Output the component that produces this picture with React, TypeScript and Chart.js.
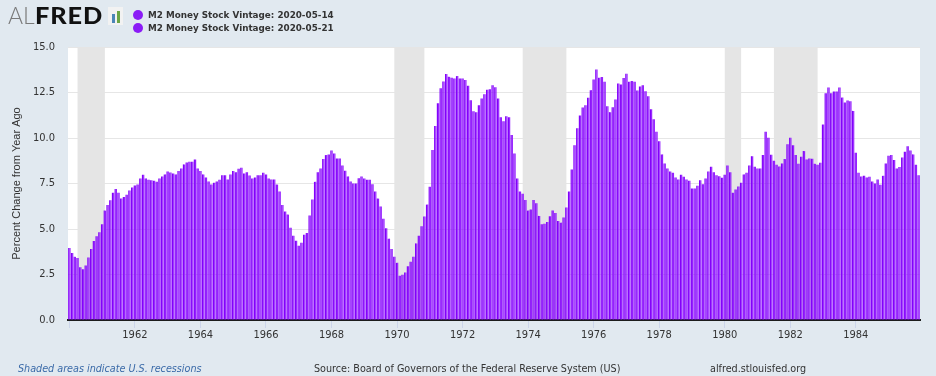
import React, { useEffect, useRef } from 'react';
import { Chart, registerables } from 'chart.js';

Chart.register(...registerables);

// ---------- DATA ----------
const startYear = 1960;
const endYear = 1985;

// Monthly categories Jan 1960 .. Dec 1985
const categories: string[] = [];
for (let y = startYear; y <= endYear; y++) {
  for (let m = 1; m <= 12; m++) categories.push(`${y}-${String(m).padStart(2, '0')}`);
}

// M2 Money Stock, percent change from year ago (vintage 2020-05-14)
const vintage20200514 = [
  3.95, 3.68, 3.47, 3.40, 2.90, 2.79, 3.00, 3.44, 3.90, 4.34, 4.60, 4.82,
  5.26, 6.01, 6.32, 6.58, 6.99, 7.20, 6.99, 6.67, 6.76, 6.88, 7.11, 7.28,
  7.39, 7.44, 7.78, 7.98, 7.78, 7.70, 7.68, 7.65, 7.59, 7.78, 7.89, 8.00,
  8.16, 8.10, 8.05, 8.00, 8.18, 8.33, 8.55, 8.66, 8.69, 8.69, 8.82, 8.33,
  8.18, 8.00, 7.83, 7.61, 7.44, 7.54, 7.61, 7.70, 7.96, 7.96, 7.72, 8.00,
  8.18, 8.12, 8.31, 8.36, 8.05, 8.12, 7.94, 7.78, 7.83, 7.96, 7.96, 8.09,
  8.00, 7.78, 7.72, 7.72, 7.44, 7.06, 6.32, 5.96, 5.79, 5.07, 4.63, 4.36,
  4.08, 4.25, 4.69, 4.78, 5.74, 6.62, 7.59, 8.12, 8.33, 8.84, 9.06, 9.10,
  9.32, 9.15, 8.88, 8.88, 8.49, 8.20, 7.89, 7.61, 7.50, 7.50, 7.79, 7.89,
  7.78, 7.70, 7.70, 7.46, 7.06, 6.67, 6.23, 5.57, 5.04, 4.47, 3.90, 3.47,
  3.14, 2.43, 2.48, 2.61, 2.96, 3.20, 3.47, 4.21, 4.63, 5.15, 5.68, 6.34,
  7.32, 9.34, 10.66, 11.91, 12.74, 13.11, 13.51, 13.36, 13.31, 13.27, 13.40, 13.27,
  13.27, 13.18, 12.87, 12.08, 11.47, 11.42, 11.80, 12.17, 12.41, 12.65, 12.68, 12.90,
  12.79, 12.17, 11.14, 10.92, 11.20, 11.14, 10.17, 9.15, 7.78, 7.06, 6.93, 6.60,
  6.01, 6.07, 6.60, 6.42, 5.72, 5.26, 5.29, 5.39, 5.70, 6.01, 5.88, 5.44,
  5.35, 5.63, 6.18, 7.06, 8.27, 9.60, 10.53, 11.23, 11.67, 11.80, 12.21, 12.63,
  13.22, 13.77, 13.31, 13.35, 13.09, 11.75, 11.42, 11.69, 12.11, 13.00, 12.94, 13.29,
  13.53, 13.09, 13.13, 13.09, 12.61, 12.83, 12.90, 12.57, 12.30, 11.58, 11.03, 10.35,
  9.82, 9.10, 8.60, 8.33, 8.16, 8.09, 7.83, 7.72, 7.98, 7.87, 7.72, 7.65,
  7.22, 7.22, 7.37, 7.68, 7.46, 7.78, 8.16, 8.42, 8.12, 7.96, 7.90, 7.81,
  7.98, 8.49, 8.12, 6.99, 7.17, 7.33, 7.54, 8.00, 8.09, 8.49, 9.00, 8.42,
  8.33, 8.33, 9.06, 10.35, 10.02, 9.08, 8.75, 8.53, 8.44, 8.60, 8.84, 9.65,
  10.02, 9.60, 9.06, 8.58, 8.97, 9.28, 8.82, 8.88, 8.86, 8.58, 8.53, 8.64,
  10.74, 12.46, 12.78, 12.46, 12.56, 12.56, 12.78, 12.22, 11.95, 12.06, 12.02, 11.49,
  9.19, 8.09, 7.89, 7.92, 7.83, 7.87, 7.61, 7.50, 7.72, 7.43, 7.92, 8.60,
  9.03, 9.06, 8.79, 8.33, 8.40, 8.93, 9.25, 9.54, 9.32, 9.10, 8.53, 7.96,
];

// M2 Money Stock, percent change from year ago (vintage 2020-05-21)
const vintage20200521 = [
  3.95, 3.68, 3.47, 3.40, 2.90, 2.79, 3.00, 3.44, 3.90, 4.34, 4.60, 4.82,
  5.26, 6.01, 6.32, 6.58, 6.99, 7.20, 6.99, 6.67, 6.76, 6.88, 7.11, 7.28,
  7.39, 7.44, 7.78, 7.98, 7.78, 7.70, 7.68, 7.65, 7.59, 7.78, 7.89, 8.00,
  8.16, 8.10, 8.05, 8.00, 8.18, 8.33, 8.55, 8.66, 8.69, 8.69, 8.82, 8.33,
  8.18, 8.00, 7.83, 7.61, 7.44, 7.54, 7.61, 7.70, 7.96, 7.96, 7.72, 8.00,
  8.18, 8.12, 8.31, 8.36, 8.05, 8.12, 7.94, 7.78, 7.83, 7.96, 7.96, 8.09,
  8.00, 7.78, 7.72, 7.72, 7.44, 7.06, 6.32, 5.96, 5.79, 5.07, 4.63, 4.36,
  4.08, 4.25, 4.69, 4.78, 5.74, 6.62, 7.59, 8.12, 8.33, 8.84, 9.06, 9.10,
  9.32, 9.15, 8.88, 8.88, 8.49, 8.20, 7.89, 7.61, 7.50, 7.50, 7.79, 7.89,
  7.78, 7.70, 7.70, 7.46, 7.06, 6.67, 6.23, 5.57, 5.04, 4.47, 3.90, 3.47,
  3.14, 2.43, 2.48, 2.61, 2.96, 3.20, 3.47, 4.21, 4.63, 5.15, 5.68, 6.34,
  7.32, 9.34, 10.66, 11.91, 12.74, 13.11, 13.51, 13.36, 13.31, 13.27, 13.40, 13.27,
  13.27, 13.18, 12.87, 12.08, 11.47, 11.42, 11.80, 12.17, 12.41, 12.65, 12.68, 12.90,
  12.79, 12.17, 11.14, 10.92, 11.20, 11.14, 10.17, 9.15, 7.78, 7.06, 6.93, 6.60,
  6.01, 6.07, 6.60, 6.42, 5.72, 5.26, 5.29, 5.39, 5.70, 6.01, 5.88, 5.44,
  5.35, 5.63, 6.18, 7.06, 8.27, 9.60, 10.53, 11.23, 11.67, 11.80, 12.21, 12.63,
  13.22, 13.77, 13.31, 13.35, 13.09, 11.75, 11.42, 11.69, 12.11, 13.00, 12.94, 13.29,
  13.53, 13.09, 13.13, 13.09, 12.61, 12.83, 12.90, 12.57, 12.30, 11.58, 11.03, 10.35,
  9.82, 9.10, 8.60, 8.33, 8.16, 8.09, 7.83, 7.72, 7.98, 7.87, 7.72, 7.65,
  7.22, 7.22, 7.37, 7.68, 7.46, 7.78, 8.16, 8.42, 8.12, 7.96, 7.90, 7.81,
  7.98, 8.49, 8.12, 6.99, 7.17, 7.33, 7.54, 8.00, 8.09, 8.49, 9.00, 8.42,
  8.33, 8.33, 9.06, 10.35, 10.02, 9.08, 8.75, 8.53, 8.44, 8.60, 8.84, 9.65,
  10.02, 9.60, 9.06, 8.58, 8.97, 9.28, 8.82, 8.88, 8.86, 8.58, 8.53, 8.64,
  10.74, 12.46, 12.78, 12.46, 12.56, 12.56, 12.78, 12.22, 11.95, 12.06, 12.02, 11.49,
  9.19, 8.09, 7.89, 7.92, 7.83, 7.87, 7.61, 7.50, 7.72, 7.43, 7.92, 8.60,
  9.03, 9.06, 8.79, 8.33, 8.40, 8.93, 9.25, 9.54, 9.32, 9.10, 8.53, 7.96,
];

const seriesNames = ['M2 Money Stock Vintage: 2020-05-14', 'M2 Money Stock Vintage: 2020-05-21'];
const seriesColors = ['#8200fa', '#9520ff'];

// x tick marks (every other January) and which of them carry a label
const xTickMarks = ['1960-01', '1962-01', '1964-01', '1966-01', '1968-01', '1970-01', '1972-01', '1974-01', '1976-01', '1978-01', '1980-01', '1982-01', '1984-01'];
const xTickLabels = ['1962', '1964', '1966', '1968', '1970', '1972', '1974', '1976', '1978', '1980', '1982', '1984'];

const yTickValues = [0, 2.5, 5, 7.5, 10, 12.5, 15];

// U.S. recessions (peak month, trough month)
const recessionStarts = ['1960-04', '1969-12', '1973-11', '1980-01', '1981-07'];
const recessionEnds = ['1961-02', '1970-11', '1975-03', '1980-07', '1982-11'];

const NARROW = "'Liberation Sans Narrow', 'DejaVu Sans Condensed', 'Liberation Sans', sans-serif";

const recessionPlugin = {
  id: 'recessions',
  beforeDraw(chart: any) {
    const { ctx, chartArea } = chart;
    ctx.save();
    ctx.fillStyle = '#ffffff';
    ctx.fillRect(chartArea.left, chartArea.top, chartArea.right - chartArea.left, chartArea.bottom - chartArea.top);
    ctx.restore();
  },
  beforeDatasetsDraw(chart: any) {
    const { ctx, chartArea, scales } = chart;
    const x = scales.x;
    ctx.save();
    ctx.fillStyle = '#e5e5e5';
    for (let i = 0; i < recessionStarts.length; i++) {
      const a = x.getPixelForValue(categories.indexOf(recessionStarts[i]));
      const b = x.getPixelForValue(categories.indexOf(recessionEnds[i]));
      ctx.fillRect(a, chartArea.top, b - a, chartArea.bottom - chartArea.top - 1);
    }
    ctx.restore();
  },
};

export default function App() {
  const ref = useRef<HTMLCanvasElement | null>(null);

  useEffect(() => {
    if (!ref.current) return;
    const tickIdx = xTickMarks.map((k) => categories.indexOf(k));
    const chart = new Chart(ref.current, {
      type: 'bar',
      data: {
        labels: categories,
        datasets: [
          {
            label: seriesNames[0],
            data: vintage20200514,
            backgroundColor: seriesColors[0],
            borderWidth: 0,
            categoryPercentage: 0.9,
            barPercentage: 0.96,
          },
          {
            label: seriesNames[1],
            data: vintage20200521,
            backgroundColor: seriesColors[1],
            borderWidth: 0,
            categoryPercentage: 0.9,
            barPercentage: 0.96,
          },
        ],
      },
      options: {
        animation: false,
        responsive: false,
        maintainAspectRatio: false,
        layout: { padding: { left: 0, right: 16, top: 47, bottom: 0 } },
        plugins: { legend: { display: false }, tooltip: { enabled: false } },
        scales: {
          x: {
            type: 'category',
            offset: true,
            grid: {
              display: true,
              drawOnChartArea: false,
              drawTicks: true,
              tickLength: 8,
              tickColor: '#ccd6eb',
              offset: false,
              lineWidth: 1,
            },
            border: { display: true, color: '#1c1c1c', width: 2 },
            ticks: {
              autoSkip: false,
              maxRotation: 0,
              minRotation: 0,
              padding: 1,
              color: '#333333',
              font: { family: NARROW, size: 11 },
              callback: (value: any) => {
                const key = categories[value as number];
                const yr = key.slice(0, 4);
                return xTickLabels.includes(yr) ? yr : '';
              },
            },
            afterBuildTicks: (scale: any) => {
              scale.ticks = scale.ticks.filter((t: any) => tickIdx.includes(t.value));
            },
            afterFit: (scale: any) => {
              scale.height = 56;
            },
          },
          y: {
            min: 0,
            max: 15,
            afterBuildTicks: (scale: any) => {
              scale.ticks = yTickValues.map((v) => ({ value: v }));
            },
            ticks: {
              padding: 13,
              color: '#333333',
              font: { family: NARROW, size: 11 },
              callback: (v: any) => Number(v).toFixed(1),
            },
            grid: { color: '#e6e6e6', lineWidth: 1, drawTicks: false },
            border: { display: false },
            title: {
              display: true,
              text: 'Percent Change from Year Ago',
              color: '#333333',
              font: { family: "'Liberation Sans', sans-serif", size: 11 },
              padding: { top: 10, bottom: 0 },
            },
            afterFit: (scale: any) => {
              scale.width = 68;
            },
          },
        },
      },
      plugins: [recessionPlugin],
    } as any);
    return () => chart.destroy();
  }, []);

  return (
    <div
      style={{
        position: 'absolute',
        left: 0,
        top: 0,
        width: 936,
        height: 376,
        background: '#e1e9f0',
        overflow: 'hidden',
        fontFamily: "'Liberation Sans', sans-serif",
      }}
    >
      <canvas ref={ref} width={936} height={376} style={{ position: 'absolute', left: 0, top: 0, width: 936, height: 376 }} />
      {/* logo */}
      <div style={{ position: 'absolute', left: 8, top: 0, fontFamily: 'Lato, Inter, sans-serif', fontSize: 23, lineHeight: '30px', whiteSpace: 'nowrap' }}>
        <span style={{ color: '#7a7a7a', fontWeight: 300, letterSpacing: 0 }}>AL</span>
        <span style={{ color: '#111', fontWeight: 900, letterSpacing: 0.8, display: 'inline-block', transform: 'scaleX(1.1)', transformOrigin: 'left center' }}>FRED</span>
      </div>
      <div style={{ position: 'absolute', left: 108, top: 7, width: 15, height: 18, background: '#f2f2f2' }}>
        <div style={{ position: 'absolute', left: 4, top: 7, width: 3, height: 9, background: '#4b86b8' }} />
        <div style={{ position: 'absolute', left: 9, top: 4, width: 3, height: 12, background: '#6aa544' }} />
      </div>
      {/* legend */}
      {seriesNames.map((name, i) => (
        <div key={name} style={{ position: 'absolute', left: 133, top: 9 + i * 13, height: 12, display: 'flex', alignItems: 'center', whiteSpace: 'nowrap' }}>
          <div style={{ width: 10, height: 10, borderRadius: 5, background: '#8b1cf6', marginRight: 5 }} />
          <span style={{ fontFamily: "'DejaVu Sans', sans-serif", fontWeight: 700, fontSize: 8.8, color: '#333' }}>{name}</span>
        </div>
      ))}
      {/* footer */}
      <div style={{ position: 'absolute', left: 18, top: 362, fontFamily: NARROW, fontStyle: 'italic', fontSize: 10.7, color: '#3a6aa8', whiteSpace: 'nowrap' }}>
        Shaded areas indicate U.S. recessions
      </div>
      <div style={{ position: 'absolute', left: 314, top: 362, fontFamily: NARROW, fontSize: 10.7, color: '#333', whiteSpace: 'nowrap' }}>
        Source: Board of Governors of the Federal Reserve System (US)
      </div>
      <div style={{ position: 'absolute', left: 710, top: 362, fontFamily: NARROW, fontSize: 10.7, color: '#333', whiteSpace: 'nowrap' }}>
        alfred.stlouisfed.org
      </div>
    </div>
  );
}
